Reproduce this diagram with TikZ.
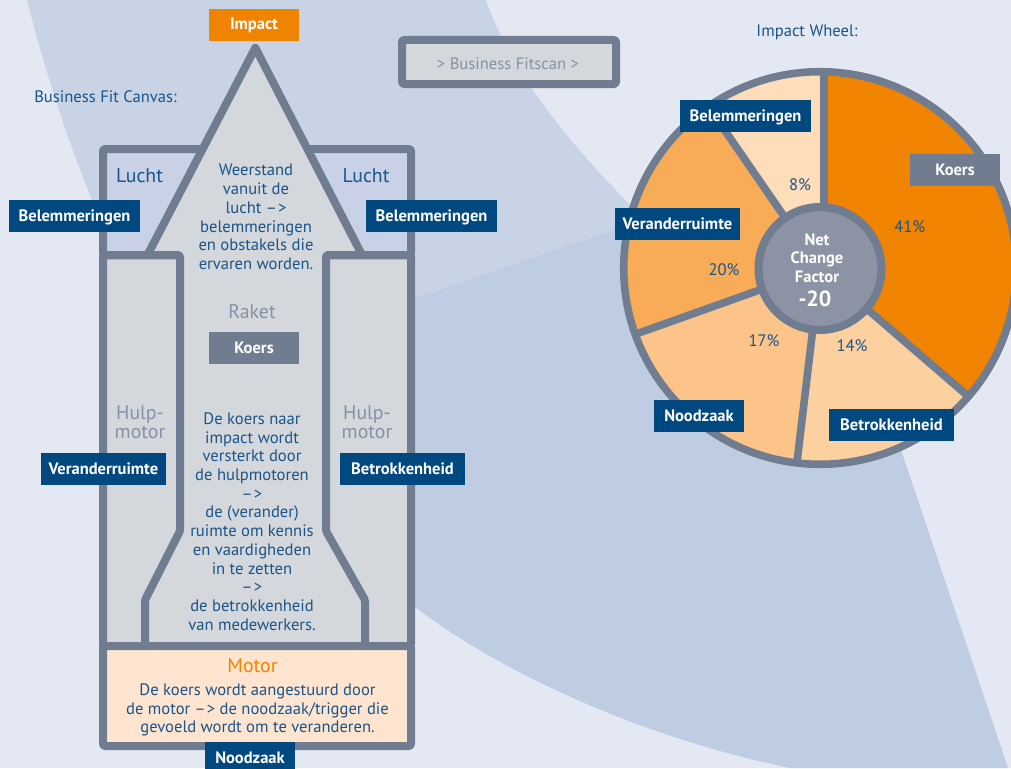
\documentclass[tikz,border=0pt]{standalone}
\usepackage{fontspec}
\setmainfont{PT Sans}
\definecolor{bgbase}{HTML}{E3E8F3}
\definecolor{bglight}{HTML}{C8D4E6}
\definecolor{bgdark}{HTML}{BECDE1}
\definecolor{slate}{HTML}{707C8F}
\definecolor{panel}{HTML}{D4D8DC}
\definecolor{sky}{HTML}{C8D1E6}
\definecolor{motorfill}{HTML}{FFE5CF}
\definecolor{navy}{HTML}{004880}
\definecolor{inktext}{HTML}{1A5488}
\definecolor{greytext}{HTML}{8692A3}
\definecolor{orange}{HTML}{F08300}
\definecolor{hubfill}{HTML}{8C93A4}
\definecolor{wkoers}{HTML}{F08300}
\definecolor{wbetr}{HTML}{FDD09F}
\definecolor{wnood}{HTML}{FCC488}
\definecolor{wver}{HTML}{F8AC58}
\definecolor{wbel}{HTML}{FEDDBB}
\newcommand{\arrowtext}{–\kern1.2pt>}
\tikzset{
  line/.style={draw=slate,line width=8pt,line join=round,rounded corners=1.5pt},
  tag/.style={fill=navy,text=white,font=\fontsize{16.5}{17}\selectfont\bfseries,minimum height=32pt,inner sep=0pt,anchor=center,text height=13pt,text depth=3pt},
  body/.style={text=inktext,align=center,inner sep=0pt,font=\fontsize{16.6}{18.7}\selectfont},
  head/.style={align=center,inner sep=0pt,font=\fontsize{19.8}{19}\selectfont},
  small/.style={text=inktext,inner sep=0pt,font=\fontsize{16.6}{17}\selectfont},
}
\begin{document}
\begin{tikzpicture}[x=1pt,y=-1pt]
\useasboundingbox (0,0) rectangle (1011,768);
\clip (0,0) rectangle (1011,768);
% background
\fill[bgbase] (0,0) rectangle (1011,768);
\fill[bglight] (27,0) .. controls (45,70) and (65,135) .. (97,212) -- (200,400) -- (640,300) -- (640,215)
  .. controls (565,140) and (510,70) .. (486,0) -- cycle;
\fill[bgdark] (300,338) -- (640,221) -- (880,400) -- (901,450) -- (1008,768) -- (790,768)
  .. controls (630,735) and (490,665) .. (415,607) -- (300,540) -- cycle;
% canvas fills and outlines
\filldraw[line,fill=panel] (103,255) rectangle (411,646);
\filldraw[line,fill=sky] (103,149) rectangle (411,255);
\fill[panel] (147.5,256) -- (255.3,47.8) -- (362,256) -- cycle;
\fill[panel] (184,250) rectangle (322,300);
\draw[draw=slate,line width=8pt,line join=round] (147.5,255) -- (255.3,47.8) -- (362,255);
\draw[line] (103,255) -- (180,255) -- (180,531) -- (145,600) -- (145,646);
\draw[line] (411,255) -- (326,255) -- (326,531) -- (365,600) -- (365,646);
\filldraw[line,fill=motorfill] (103,646) rectangle (411,746);
% fitscan
\filldraw[line,fill=panel] (402,40) rectangle (616,84);
\node[text=greytext,inner sep=0pt,font=\fontsize{16.6}{17}\selectfont] (fitscan) at (508,63.5) {> Business Fitscan >};
% canvas texts
\node[small] (canvastitle) at (105.5,96.5) {Business Fit Canvas:};
\node[small] (wheeltitle) at (807,32.5) {Impact Wheel:};
\node[head,text=inktext] (luchtl) at (139.5,175.5) {Lucht};
\node[head,text=inktext] (luchtr) at (366,175.5) {Lucht};
\node[head,text=greytext] (raket) at (252,311.5) {Raket};
\node[head,text=greytext] (hulpl) at (140,422) {Hulp-\\motor};
\node[head,text=greytext] (hulpr) at (367,422) {Hulp-\\motor};
\node[head,text=orange] (motor) at (252.5,665.5) {Motor};
\node[body] (weerstand) at (256,217) {Weerstand\\vanuit de\\lucht \arrowtext\\belemmeringen\\en obstakels die\\ervaren worden.};
\node[body] (koerstext) at (252,521.5) {De koers naar\\impact wordt\\versterkt door\\de hulpmotoren\\\arrowtext\\de (verander)\\ruimte om kennis\\en vaardigheden\\in te zetten\\\arrowtext\\de betrokkenheid\\van medewerkers.};
\node[body] (motortext) at (257.5,710) {De koers wordt aangestuurd door\\de motor \arrowtext{} de noodzaak/trigger die\\gevoeld wordt om te veranderen.};
% canvas tags
\node[tag,fill=orange,minimum width=90pt] (impact) at (254,25) {Impact};
\node[tag,fill=slate,minimum width=90pt] (koersa) at (254,348) {Koers};
\node[tag,minimum width=131pt] (bela) at (74.5,216) {Belemmeringen};
\node[tag,minimum width=131pt] (belb) at (431.5,216) {Belemmeringen};
\node[tag,minimum width=125pt] (vera) at (103.5,469) {Veranderruimte};
\node[tag,minimum width=125pt] (betra) at (402.5,469) {Betrokkenheid};
\node[tag,minimum width=90pt] (nooda) at (250,758) {Noodzaak};
% wheel
\begin{scope}
\clip (820,268) circle (197pt);
\fill[wkoers] (820,268) -- (824,0) -- (1100,0) -- (1118,526) -- cycle;
\fill[wbel] (820,268) -- (652,25) -- (824,0) -- cycle;
\fill[wver] (820,268) -- (652,25) -- (400,100) -- (452,400) -- cycle;
\fill[wnood] (820,268) -- (452,400) -- (500,700) -- (774,656) -- cycle;
\fill[wbetr] (820,268) -- (774,656) -- (1100,700) -- (1118,526) -- cycle;
\end{scope}
\coordinate (hubc) at (820,268.5);
\draw[slate,line width=7.6pt] (824,268) -- (824,70);
\draw[slate,line width=7.6pt] (hubc) -- (708,106);
\draw[slate,line width=7.6pt] (hubc) -- (636,334);
\draw[slate,line width=7.6pt] (hubc) -- (797,462);
\draw[slate,line width=7.6pt] (hubc) -- (969,397);
\draw[slate,line width=7.6pt] (820,268) circle (196.3pt);
\filldraw[draw=slate,line width=8pt,fill=hubfill] (hubc) circle (61.5pt);
\node[text=white,align=center,inner sep=0pt,font=\fontsize{16.5}{18.6}\selectfont\bfseries] (nethub) at (817,258) {Net\\Change\\Factor};
\node[text=white,inner sep=0pt,font=\fontsize{22}{22}\selectfont\bfseries] (hubval) at (815,298.5) {-20};
\node[small] (pk) at (909.7,226.5) {41\%};
\node[small] (pbel) at (800,184.5) {8\%};
\node[small] (pv) at (724,269.5) {20\%};
\node[small] (pn) at (764,340.5) {17\%};
\node[small] (pb) at (852,345.5) {14\%};
\node[tag,minimum width=131pt] (belc) at (745.5,116) {Belemmeringen};
\node[tag,fill=slate,minimum width=90pt] (koersb) at (955,170) {Koers};
\node[tag,minimum width=125pt] (verb) at (677.5,224) {Veranderruimte};
\node[tag,minimum width=90pt] (noodb) at (699,416) {Noodzaak};
\node[tag,minimum width=125pt] (betrb) at (891.5,425) {Betrokkenheid};
\end{tikzpicture}
\end{document}
